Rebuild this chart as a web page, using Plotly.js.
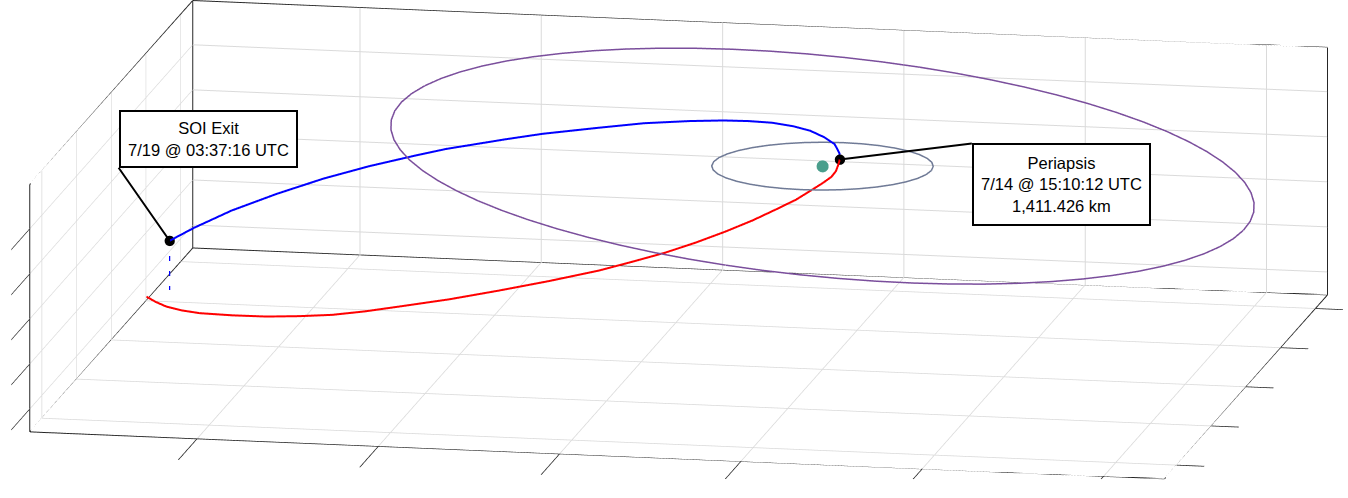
<!DOCTYPE html>
<html><head><meta charset="utf-8">
<script src="https://cdn.plot.ly/plotly-3.0.1.min.js"></script>
<style>html,body{margin:0;padding:0;background:#fff;overflow:hidden}#chart{width:1348px;height:498px}</style>
</head><body><div id="chart"></div>
<script>
// ---- data (km, Kerbin-centred frame) ----
const kerbinX = [0], kerbinY = [0], kerbinZ = [0];

// Mun orbit (r = 12,000 km, equatorial)
const munX = [12000,11818,11276,10392,9193,7713,6000,4104,2084,0,-2084,-4104,-6000,-7713,-9193,-10392,-11276,-11818,-12000,-11818,-11276,-10392,-9193,-7713,-6000,-4104,-2084,0,2084,4104,6000,7713,9193,10392,11276,11818,12000];
const munY = [0,2084,4104,6000,7713,9193,10392,11276,11818,12000,11818,11276,10392,9193,7713,6000,4104,2084,0,-2084,-4104,-6000,-7713,-9193,-10392,-11276,-11818,-12000,-11818,-11276,-10392,-9193,-7713,-6000,-4104,-2084,0];
const munZ = [0,0,0,0,0,0,0,0,0,0,0,0,0,0,0,0,0,0,0,0,0,0,0,0,0,0,0,0,0,0,0,0,0,0,0,0,0];

// Minmus orbit (r = 47,000 km, i = 6 deg)
const minmusX = [9772,5750,1683,-2395,-6455,-10467,-14398,-18220,-21903,-25420,-28743,-31847,-34710,-37308,-39622,-41635,-43330,-44695,-45721,-46399,-46724,-46693,-46306,-45568,-44482,-43057,-41305,-39240,-36875,-34230,-31324,-28179,-24821,-21273,-17563,-13720,-9772,-5750,-1683,2395,6455,10467,14398,18220,21903,25420,28743,31847,34710,37308,39622,41635,43330,44695,45721,46399,46724,46693,46306,45568,44482,43057,41305,39240,36875,34230,31324,28179,24821,21273,17563,13720,9772];
const minmusY = [45973,46645,46963,46922,46525,45773,44673,43233,41465,39380,36996,34330,31403,28237,24856,21286,17554,13688,9718,5674,1588,-2512,-6592,-10621,-14571,-18408,-22106,-25636,-28971,-32085,-34955,-37559,-39877,-41892,-43587,-44951,-45973,-46645,-46963,-46922,-46525,-45773,-44673,-43233,-41465,-39380,-36996,-34330,-31403,-28237,-24856,-21286,-17554,-13688,-9718,-5674,-1588,2512,6592,10621,14571,18408,22106,25636,28971,32085,34955,37559,39877,41892,43587,44951,45973];
const minmusZ = [0,428,853,1272,1680,2076,2456,2818,3158,3474,3763,4024,4255,4453,4617,4746,4838,4894,4913,4894,4838,4746,4617,4453,4255,4024,3763,3474,3158,2818,2456,2076,1680,1272,853,428,0,-428,-853,-1272,-1680,-2076,-2456,-2818,-3158,-3474,-3763,-4024,-4255,-4453,-4617,-4746,-4838,-4894,-4913,-4894,-4838,-4746,-4617,-4453,-4255,-4024,-3763,-3474,-3158,-2818,-2456,-2076,-1680,-1272,-853,-428,0];

// Inbound leg: SOI entry -> periapsis (red)
const inX = [-78447,-77307,-75721,-73744,-71579,-67855,-64084,-60110,-56187,-52301,-48318,-42463,-36636,-30820,-25021,-21226,-17355,-13904,-10542,-7470,-4571,-2570,-903,316,1260,1700,1860,1966];
const inY = [20226,19622,17487,15950,14992,14512,14191,12572,11048,9722,8463,6624,4929,3296,1753,894,53,-555,-1044,-1396,-1594,-1699,-1607,-1535,-1407,-1120,-690,-264];
const inZ = [-22132,-22540,-22530,-22535,-22545,-22530,-22436,-21875,-21236,-20398,-19427,-17986,-16401,-14753,-13013,-11706,-10332,-8950,-7485,-6041,-4527,-3446,-2346,-1535,-826,-239,338,881];

// Outbound leg: periapsis -> SOI exit (blue)
const outX = [1966,1810,1081,-295,-2081,-4190,-6761,-9660,-12659,-16714,-22177,-27480,-34038,-38404,-45445,-49060,-54321,-59606,-64849,-70057,-74189,-76952];
const outY = [-264,321,1368,2518,3796,5045,6403,7749,9045,10681,12769,14603,16832,18193,20310,21259,22579,23743,24683,25444,25758,25816];
const outZ = [881,1444,2184,2651,3018,3158,3142,2918,2577,1987,1062,-55,-1477,-2564,-4403,-5501,-7169,-9026,-11109,-13373,-15495,-17085];

// Event points
const periX = [1966], periY = [-264], periZ = [881];
const exitX = [-76952], exitY = [25816], exitZ = [-17085];
const dropX = [-76952,-76952], dropY = [25816,25816], dropZ = [-17085,-22545];

// tick positions (no labels shown)
const xTicks = [-60000,-40000,-20000,0,20000,40000];
const yTicks = [-40000,-20000,0,20000,40000];
const zTicks = [-20000,-15000,-10000,-5000,0];

const periText = 'Periapsis<br>7/14 @ 15:10:12 UTC<br>1,411.426 km';
const exitText = 'SOI Exit<br>7/19 @ 03:37:16 UTC';

// ---- build ----
const allX = [].concat(munX, minmusX, inX, outX, dropX);
const allY = [].concat(munY, minmusY, inY, outY, dropY);
const allZ = [].concat(munZ, minmusZ, inZ, outZ, dropZ);
const xr = [Math.min(...allX), Math.max(...allX)];
const yr = [Math.min(...allY), Math.max(...allY)];
const zr = [Math.min(...allZ), Math.max(...allZ)];
const Lx = xr[1]-xr[0], Ly = yr[1]-yr[0], Lz = zr[1]-zr[0];

const [x0,x1] = xr, [y0,y1] = yr, [z0,z1] = zr;
const edges = [
  [[x0,y1,z0],[x1,y1,z0]], [[x0,y1,z1],[x1,y1,z1]], [[x0,y1,z0],[x0,y1,z1]],
  [[x1,y1,z0],[x1,y1,z1]], [[x0,y0,z0],[x0,y0,z1]], [[x0,y0,z1],[x0,y1,z1]],
  [[x0,y0,z0],[x0,y1,z0]], [[x0,y0,z0],[x1,y0,z0]], [[x1,y0,z0],[x1,y1,z0]]
];
const fx=[],fy=[],fz=[];
edges.forEach(e=>{e.forEach(p=>{fx.push(p[0]);fy.push(p[1]);fz.push(p[2]);});fx.push(null);fy.push(null);fz.push(null);});

const common = {type:'scatter3d', hoverinfo:'skip', showlegend:false};
const traces = [
  Object.assign({}, common, {mode:'lines', x:fx, y:fy, z:fz, connectgaps:false, line:{color:'#262626', width:2}}),
  Object.assign({}, common, {mode:'lines', x:munX, y:munY, z:munZ, line:{color:'#6f7a96', width:3}}),
  Object.assign({}, common, {mode:'lines', x:minmusX, y:minmusY, z:minmusZ, line:{color:'#7a4e9c', width:3}}),
  Object.assign({}, common, {mode:'lines', x:inX, y:inY, z:inZ, line:{color:'#ff0000', width:4}}),
  Object.assign({}, common, {mode:'lines', x:outX, y:outY, z:outZ, line:{color:'#0000ff', width:4}}),
  Object.assign({}, common, {mode:'lines', x:dropX, y:dropY, z:dropZ, line:{color:'#0000ff', width:2.5, dash:'dot'}}),
  Object.assign({}, common, {mode:'markers', x:kerbinX, y:kerbinY, z:kerbinZ, marker:{color:'#4a9e8c', size:7, line:{width:0}}}),
  Object.assign({}, common, {mode:'markers', x:periX, y:periY, z:periZ, marker:{color:'#000000', size:6, line:{width:0}}}),
  Object.assign({}, common, {mode:'markers', x:exitX, y:exitY, z:exitZ, marker:{color:'#000000', size:6, line:{width:0}}})
];

function ax(range, ticks, len){
  return {range:range, title:{text:''}, showticklabels:false, tickmode:'array', tickvals:ticks,
    ticks:'outside', ticklen:len, tickwidth:2, tickcolor:'#262626',
    showgrid:true, gridcolor:'rgb(218,218,218)', gridwidth:2, zeroline:false,
    showline:false, showbackground:false, showspikes:false, autorange:false};
}
const zoom = 4.64;
const s = 2;
const dir = [0.1835, -0.959, 0.216];
const cen = [-0.01691, -0.01149, -0.03664];
const annFont = {family:'Liberation Sans, Arial, sans-serif', size:16.5, color:'#000'};
const layout = {
  width:1348, height:498, margin:{l:0,r:0,t:0,b:0}, paper_bgcolor:'#fff', showlegend:false,
  font:{family:'Liberation Sans, Arial, sans-serif'},
  scene:{
    domain:{x:[0,1], y:[0,1]}, bgcolor:'#fff',
    xaxis:ax(xr, xTicks, 28), yaxis:ax(yr, yTicks, 99), zaxis:ax(zr, zTicks, 28),
    aspectmode:'manual', aspectratio:{x:zoom, y:zoom*Ly/Lx, z:zoom*Lz/Lx},
    camera:{projection:{type:'orthographic'}, up:{x:0,y:0,z:1}, center:{x:cen[0],y:cen[1],z:cen[2]},
            eye:{x:cen[0]+dir[0]*s, y:cen[1]+dir[1]*s, z:cen[2]+dir[2]*s}},
    annotations:[
      {x:exitX[0], y:exitY[0], z:exitZ[0], text:exitText, showarrow:true, arrowhead:0, arrowwidth:2, arrowcolor:'#000',
       ax:-51, ay:-73, xanchor:'left', yanchor:'bottom', width:175, height:54, borderpad:0, borderwidth:2,
       bordercolor:'#000', bgcolor:'#fff', align:'center', valign:'middle', font:annFont},
      {x:periX[0], y:periY[0], z:periZ[0], text:periText, showarrow:true, arrowhead:0, arrowwidth:2, arrowcolor:'#000',
       ax:132, ay:-16, xanchor:'left', yanchor:'top', width:175, height:79, borderpad:0, borderwidth:2,
       bordercolor:'#000', bgcolor:'#fff', align:'center', valign:'middle', font:annFont}
    ]
  },
  hovermode:false
};
Plotly.newPlot('chart', traces, layout, {displayModeBar:false});
</script>
</body></html>
